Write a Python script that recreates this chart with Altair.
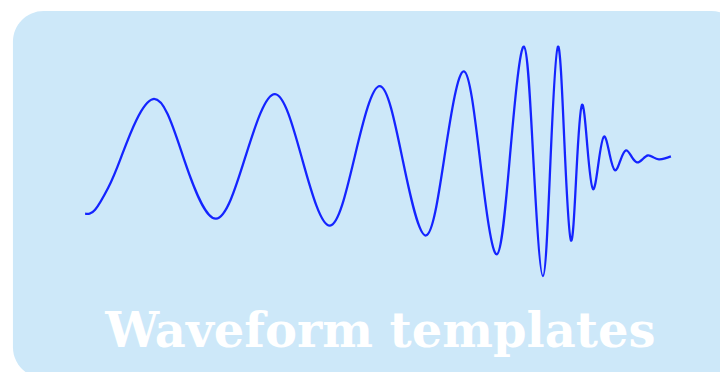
import altair as alt
import pandas as pd

# Waveform: time (s) and strain (x1e-21, arbitrary units)
time_s = [-0.465, -0.455, -0.442, -0.429, -0.397, -0.366, -0.334, -0.3045,
          -0.275, -0.2475, -0.220, -0.195, -0.170, -0.147, -0.124, -0.105, -0.086, -0.0695,
          -0.053, -0.0395, -0.026, -0.0165, -0.007, 0.0005, 0.008, 0.0145, 0.021, 0.0265,
          0.032, 0.0375, 0.043, 0.0485, 0.054, 0.0595, 0.065, 0.0705, 0.076, 0.0815,
          0.087, 0.0925, 0.098, 0.1035, 0.109, 0.115, 0.121]
strain = [-0.57, -0.53, -0.31, 0.00, 0.59, -0.02, -0.62, 0.01,
          0.64, -0.03, -0.69, 0.02, 0.72, -0.04, -0.79, 0.04, 0.87, -0.06,
          -0.98, 0.07, 1.12, -0.04, -1.20, -0.04, 1.12, 0.14, -0.84, -0.15,
          0.53, 0.10, -0.32, -0.06, 0.21, 0.04, -0.13, -0.03, 0.07, 0.01,
          -0.05, -0.02, 0.02, 0.00, -0.02, -0.01, 0.01]

title_text = "Waveform templates"

df = pd.DataFrame({"t": time_s, "h": strain})

W, H = 720, 364

bg = alt.Chart(pd.DataFrame({"a": [0]})).mark_rect(
    color="#cde8f9", cornerRadius=31
).encode(
    x=alt.value(5), x2=alt.value(742), y=alt.value(1), y2=alt.value(372)
)

line = alt.Chart(df).mark_line(
    color="#1424ff", strokeWidth=2.3, interpolate="natural"
).encode(
    x=alt.X("t:Q", scale=alt.Scale(domain=[-0.5421, 0.1701], nice=False, zero=False), axis=None),
    y=alt.Y("h:Q", scale=alt.Scale(domain=[-2.15, 1.49], nice=False, zero=False), axis=None),
)

txt = alt.Chart(pd.DataFrame({"label": [title_text]})).mark_text(
    font="DejaVu Serif", fontSize=48.5, fontWeight="bold", color="#ffffff",
    align="center", baseline="alphabetic"
).encode(
    text="label:N", x=alt.value(376.5), y=alt.value(341)
)

chart = alt.layer(bg, line, txt).properties(
    width=W, height=H, autosize=alt.AutoSizeParams(type="none"), padding=0,
    background="white"
).configure_view(stroke=None)

chart.save("out.html", embed_options={"renderer": "svg", "actions": False})
